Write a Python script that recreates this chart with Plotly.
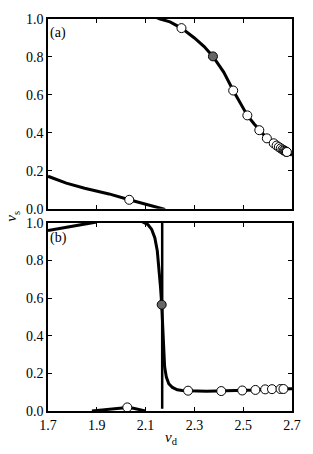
import plotly.graph_objects as go

# Panel (a)
a_upper_x = [2.12, 2.16, 2.20, 2.247, 2.30, 2.34, 2.376, 2.42, 2.459, 2.49, 2.517, 2.545, 2.566, 2.597, 2.625, 2.65, 2.68, 2.70]
a_upper_y = [1.02, 1.0, 0.985, 0.952, 0.90, 0.855, 0.803, 0.72, 0.623, 0.55, 0.492, 0.447, 0.414, 0.371, 0.345, 0.322, 0.298, 0.282]
a_lower_x = [1.70, 1.74, 1.775, 1.85, 1.95, 2.033, 2.10, 2.169, 2.18]
a_lower_y = [0.171, 0.150, 0.135, 0.108, 0.078, 0.047, 0.024, 0.0, -0.004]
a_open_x = [2.033, 2.247, 2.459, 2.517, 2.566, 2.597, 2.625, 2.637, 2.646, 2.654, 2.661, 2.666, 2.670, 2.674, 2.677, 2.679]
a_open_y = [0.047, 0.952, 0.623, 0.492, 0.414, 0.371, 0.345, 0.333, 0.325, 0.318, 0.312, 0.308, 0.305, 0.302, 0.300, 0.299]
a_gray_x = [2.376]
a_gray_y = [0.803]

# Panel (b)
b_left_x = [1.70, 1.80, 1.90]
b_left_y = [0.959, 0.982, 1.005]
b_main_x = [2.08, 2.098, 2.11, 2.125, 2.138, 2.148, 2.155, 2.161, 2.166, 2.170, 2.174, 2.178, 2.185, 2.195, 2.21, 2.23, 2.25, 2.274,
            2.35, 2.41, 2.496, 2.55, 2.59, 2.618, 2.653, 2.70]
b_main_y = [1.01, 1.0, 0.99, 0.965, 0.92, 0.85, 0.76, 0.66, 0.565, 0.43, 0.31, 0.235, 0.18, 0.145, 0.125, 0.113, 0.109, 0.107,
            0.105, 0.106, 0.109, 0.112, 0.115, 0.116, 0.117, 0.118]
b_vert_x = [2.168, 2.168]
b_vert_y = [0.012, 1.02]
b_bump_x = [1.88, 1.92, 1.96, 2.0, 2.025, 2.05, 2.075, 2.098]
b_bump_y = [0.0, 0.006, 0.012, 0.017, 0.019, 0.015, 0.008, 0.0]
b_open_x = [2.025, 2.274, 2.41, 2.496, 2.55, 2.59, 2.618, 2.653, 2.665]
b_open_y = [0.019, 0.108, 0.106, 0.109, 0.112, 0.115, 0.116, 0.117, 0.117]
b_gray_x = [2.166]
b_gray_y = [0.565]

x_ticks = [1.7, 1.9, 2.1, 2.3, 2.5, 2.7]
y_ticks = [0.0, 0.2, 0.4, 0.6, 0.8, 1.0]

LW = 3
fig = go.Figure()

def line(x, y, xa, ya, w=LW):
    fig.add_trace(go.Scatter(x=x, y=y, mode="lines", line=dict(color="black", width=w),
                             xaxis=xa, yaxis=ya, showlegend=False, hoverinfo="skip"))

def pts(x, y, xa, ya, fill):
    fig.add_trace(go.Scatter(x=x, y=y, mode="markers",
                             marker=dict(size=9, color=fill, line=dict(color="black", width=1)),
                             xaxis=xa, yaxis=ya, showlegend=False, cliponaxis=False))

line(a_upper_x, a_upper_y, "x", "y")
line(a_lower_x, a_lower_y, "x", "y")
pts(a_open_x, a_open_y, "x", "y", "white")
pts(a_gray_x, a_gray_y, "x", "y", "#666666")

line(b_left_x, b_left_y, "x2", "y2")
line(b_main_x, b_main_y, "x2", "y2")
line(b_vert_x, b_vert_y, "x2", "y2", 2.5)
line(b_bump_x, b_bump_y, "x2", "y2")
pts(b_open_x, b_open_y, "x2", "y2", "white")
pts(b_gray_x, b_gray_y, "x2", "y2", "#666666")

FAM = "Liberation Serif"
font = dict(family=FAM, size=14, color="black")
axis_common = dict(range=[1.7, 2.7], tickvals=x_ticks, ticks="inside", ticklen=4, tickwidth=1,
                   tickcolor="black", showline=True, linecolor="black", linewidth=1.5, mirror="ticks",
                   showgrid=False, zeroline=False, tickfont=font)
yaxis_common = dict(range=[0, 1.0], tickvals=y_ticks, tickformat=".1f", ticks="inside", ticklen=4, tickwidth=1,
                    tickcolor="black", showline=True, linecolor="black", linewidth=1.5, mirror="ticks",
                    showgrid=False, zeroline=False, tickfont=font)

fig.update_layout(
    width=313, height=454,
    margin=dict(l=48, r=17, t=13, b=43),
    paper_bgcolor="white", plot_bgcolor="white",
    font=font,
    xaxis=dict(axis_common, anchor="y", showticklabels=False),
    yaxis=dict(yaxis_common, anchor="x", domain=[0.516, 1.0]),
    xaxis2=dict(axis_common, anchor="y2", tickformat=".1f"),
    yaxis2=dict(yaxis_common, anchor="x2", domain=[0.0, 0.48]),
    annotations=[
        dict(text="(a)", xref="x domain", yref="y domain", x=0.0, y=0.925, xanchor="left", yanchor="middle",
             showarrow=False, font=font),
        dict(text="(b)", xref="x2 domain", yref="y2 domain", x=0.0, y=0.92, xanchor="left", yanchor="middle",
             showarrow=False, font=font),
        dict(text="<i>ν</i><sub>s</sub>", xref="paper", yref="paper", x=-0.145, y=0.497, textangle=-90,
             xanchor="center", yanchor="middle", showarrow=False, font=dict(family=FAM, size=15)),
        dict(text="<i>ν</i><sub>d</sub>", xref="paper", yref="paper", x=0.505, y=-0.068,
             xanchor="center", yanchor="middle", showarrow=False, font=dict(family=FAM, size=15)),
    ],
)

fig.write_html("out.html", config={"displayModeBar": False},
               post_script="document.body.style.margin='0';document.body.style.overflow='hidden';")
